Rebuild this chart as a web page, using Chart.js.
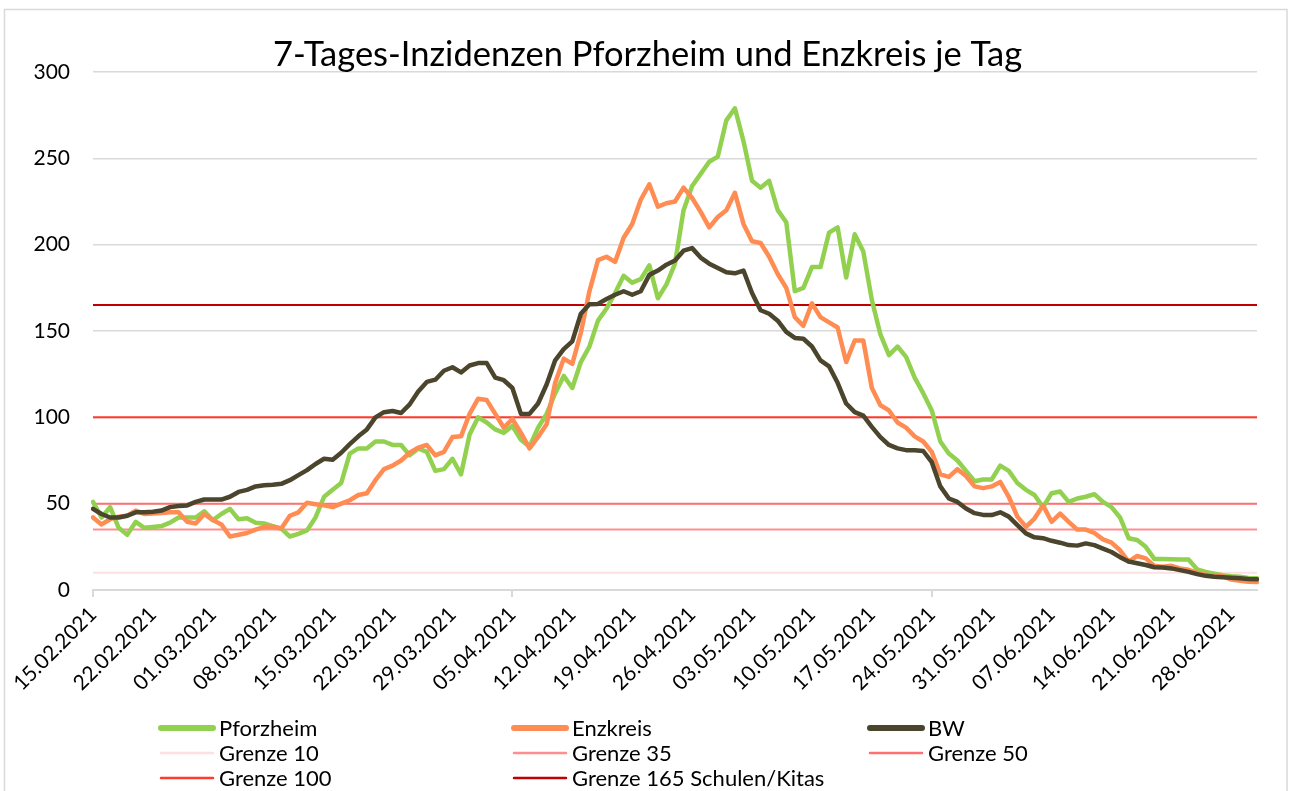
<!DOCTYPE html>
<html>
<head>
<meta charset="utf-8">
<script src="https://cdn.jsdelivr.net/npm/chart.js@4.4.1/dist/chart.umd.min.js"></script>
<style>
html,body{margin:0;padding:0;background:#fff;}
#wrap{width:1290px;height:791px;position:relative;overflow:hidden;}
</style>
</head>
<body>
<div id="wrap"><canvas id="c" width="1290" height="791"></canvas></div>
<script>
const START_DATE = '15.02.2021';
const TITLE = '7-Tages-Inzidenzen Pforzheim und Enzkreis je Tag';
const TICK_LABELS = ['15.02.2021','22.02.2021','01.03.2021','08.03.2021','15.03.2021','22.03.2021','29.03.2021','05.04.2021','12.04.2021','19.04.2021','26.04.2021','03.05.2021','10.05.2021','17.05.2021','24.05.2021','31.05.2021','07.06.2021','14.06.2021','21.06.2021','28.06.2021'];

const PFORZHEIM = [
 51, 42, 48, 36, 32, 39.5, 36, 36.5, 37, 39,
 42, 42, 42, 45.5, 40.5, 44, 47, 41, 41.5, 39,
 38.5, 37, 35.5, 31, 32.5, 34.5, 42, 54, 58, 62,
 79, 82, 82, 86, 86, 84, 84, 78, 82, 80,
 69, 70, 76, 67, 90, 100, 97, 93, 91, 95,
 87, 83, 94, 102, 114, 124, 117, 132, 141, 156,
 163, 172, 182, 178, 180, 188, 169, 177, 189, 220,
 234, 241, 248, 251, 272, 279, 260, 237, 233, 237,
 220, 213, 173, 175, 187, 187, 207, 210, 181, 206,
 196, 168, 148, 136, 141, 135, 123, 114, 104, 86,
 79, 75, 69, 63, 64, 64, 72, 69, 62, 58,
 55, 48, 56, 57, 51, 53, 54, 55.5, 51, 48,
 42, 30, 29, 25, 18, 18, 17.8, 17.6, 17.6, 12,
 10.5, 9.5, 8.5, 8, 7.7, 7, 6.8
];
const ENZKREIS = [
 42, 38, 41, 42.5, 43, 46, 44, 44.3, 44.6, 45,
 45, 39.5, 38.5, 44, 40.5, 38, 31, 32, 33, 35,
 36.6, 36.6, 35.6, 43, 45, 50.5, 49.7, 49, 48, 50,
 52, 55, 56, 63.6, 70, 72, 75, 79.5, 82.5, 84,
 78, 80, 88.6, 89, 102, 110.8, 110, 102, 94, 99,
 91, 82, 88.6, 96, 120, 134, 131, 149, 173, 191,
 193, 190, 204, 212, 226, 235, 222, 224, 225, 233,
 227, 219, 210, 216, 220, 230, 212, 202, 201, 193,
 183, 175, 158, 153, 166, 158, 155, 152, 132, 144.5,
 144.5, 117, 107, 104, 97, 94, 89, 86, 80, 67,
 65.5, 70, 66, 60, 59, 60, 62.6, 54, 42.5, 36.6,
 41.4, 49, 39.5, 44.3, 39.5, 35, 35, 33, 29.3, 27.4,
 23, 16.4, 19.7, 18.3, 14, 13.5, 14, 12.5, 11.7, 10,
 8.8, 8.2, 8, 6, 5.4, 4.8, 4.6
];
const BW = [
 47, 44, 42, 42, 43, 45, 45, 45.3, 46, 48,
 48.6, 49, 51, 52.4, 52.4, 52.4, 54, 56.8, 58, 60,
 60.7, 61, 61.5, 63.6, 66.5, 69.4, 73, 76, 75.5, 79.5,
 84.5, 89, 93, 100, 103, 103.7, 102.5, 107.5, 115, 120.5,
 121.8, 127, 129, 126, 130, 131.4, 131.4, 123, 121.5, 117,
 102, 102, 108, 119, 133, 139.5, 144, 160, 165.5, 165.7,
 168.5, 171, 173, 171, 173, 182.5, 185, 188.4, 190.8, 196.5,
 198, 192.5, 189, 186.5, 184, 183.4, 185, 172, 162, 160,
 156, 149.5, 146, 145.5, 141, 133, 129.5, 120, 108, 103,
 101, 94.5, 88.5, 84, 82, 81, 81, 80.5, 74, 60,
 53, 51, 47.2, 44.5, 43.5, 43.4, 45, 42.5, 37.6, 32.8,
 30.5, 30, 28.5, 27.4, 26, 25.7, 27, 26, 24, 22,
 19, 16.5, 15.5, 14.5, 13.2, 13, 12.5, 11.5, 10.5, 9.2,
 8.2, 7.7, 7.4, 7.1, 6.8, 6.4, 6.2
];
const GRENZEN = [10, 35, 50, 100, 165];
const GRENZEN_NAMES = ['Grenze 10', 'Grenze 35', 'Grenze 50', 'Grenze 100', 'Grenze 165 Schulen/Kitas'];
const Y_TICKS = [0, 50, 100, 150, 200, 250, 300];

// daily category labels
function buildDays(n) {
  const [d, m, y] = START_DATE.split('.').map(Number);
  const out = [];
  for (let i = 0; i < n; i++) {
    const dt = new Date(Date.UTC(y, m - 1, d + i));
    out.push(String(dt.getUTCDate()).padStart(2, '0') + '.' + String(dt.getUTCMonth() + 1).padStart(2, '0') + '.' + dt.getUTCFullYear());
  }
  return out;
}
const DAYS = buildDays(PFORZHEIM.length);

const SERIES_COLORS = ['#92d050', '#ff8c52', '#4a452c'];
const GRENZ_COLORS = ['#fde0e0', '#ff8f8f', '#ff7070', '#ff3b2a', '#c00000'];
const FONT = 'Lato, "Open Sans", sans-serif';

function seriesDs(label, data, color, order) {
  return { label, data, borderColor: color, backgroundColor: color, borderWidth: 4.5,
    pointRadius: 0, tension: 0, borderJoinStyle: 'round', borderCapStyle: 'round', order, fill: false };
}

const datasets = [
  seriesDs('Pforzheim', PFORZHEIM, SERIES_COLORS[0], 2),
  seriesDs('Enzkreis', ENZKREIS, SERIES_COLORS[1], 1),
  seriesDs('BW', BW, SERIES_COLORS[2], 0)
].concat(GRENZEN.map((g, i) => ({
  label: GRENZEN_NAMES[i], data: DAYS.map(() => g), borderColor: GRENZ_COLORS[i],
  backgroundColor: GRENZ_COLORS[i], borderWidth: 2, pointRadius: 0, tension: 0, order: 10 - i, fill: false
})));

const framePlugin = {
  id: 'frame',
  afterDraw(chart) {
    const ctx = chart.ctx;
    ctx.save();
    ctx.strokeStyle = '#d9d9d9';
    ctx.lineWidth = 1.5;
    ctx.strokeRect(4.5, 9.5, 1282.5, 800);
    ctx.restore();
  }
};

const legendPlugin = {
  id: 'xlLegend',
  afterDraw(chart) {
    const ctx = chart.ctx;
    const cols = [161, 514, 870];
    const rows = [728, 753, 778];
    chart.data.datasets.forEach((ds, i) => {
      const x = cols[i % 3], y = rows[Math.floor(i / 3)];
      ctx.save();
      ctx.strokeStyle = ds.borderColor;
      ctx.lineWidth = ds.borderWidth > 3 ? 6 : 2.5;
      ctx.lineCap = 'round';
      ctx.beginPath();
      ctx.moveTo(x, y);
      ctx.lineTo(x + 52, y);
      ctx.stroke();
      ctx.fillStyle = '#000';
      ctx.font = '22px ' + FONT;
      ctx.textBaseline = 'middle';
      ctx.fillText(ds.label, x + 58, y + 1);
      ctx.restore();
    });
  }
};

function draw() {
  Chart.defaults.font.family = FONT;
  new Chart(document.getElementById('c'), {
    type: 'line',
    data: { labels: DAYS, datasets },
    plugins: [framePlugin, legendPlugin],
    options: {
      responsive: false, animation: false, devicePixelRatio: 1,
      layout: { padding: { left: 5, right: 0, top: 0, bottom: 91 } },
      plugins: {
        legend: { display: false },
        tooltip: { enabled: false },
        title: { display: true, text: TITLE, color: '#000',
          font: { size: 34.5, weight: 'normal', lineHeight: 1 }, padding: { top: 37.5, bottom: 0 } }
      },
      scales: {
        x: {
          type: 'category', offset: false,
          grid: { drawOnChartArea: false, drawTicks: true, tickLength: 7, lineWidth: 2,
            color: c => (TICK_LABELS.includes(DAYS[c.index]) ? '#d9d9d9' : 'rgba(0,0,0,0)'),
            tickColor: c => (TICK_LABELS.includes(DAYS[c.index]) ? '#d9d9d9' : 'rgba(0,0,0,0)') },
          border: { display: true, color: '#d9d9d9', width: 2 },
          ticks: { autoSkip: false, maxRotation: 45, minRotation: 45, color: '#000', font: { size: 21 }, padding: 5,
            callback: (v, i) => (TICK_LABELS.includes(DAYS[i]) ? DAYS[i] : null) },
          afterFit: s => { s.height = 110; }
        },
        y: {
          min: 0, max: 300,
          afterBuildTicks: s => { s.ticks = Y_TICKS.map(v => ({ value: v })); },
          ticks: { color: '#000', font: { size: 21 }, padding: 23 },
          grid: { color: '#d9d9d9', lineWidth: 1.5, drawTicks: false },
          border: { display: false },
          afterFit: s => { s.width = 88; }
        },
        yRight: {
          position: 'right', display: true, min: 0, max: 300,
          ticks: { display: false }, grid: { display: false, drawTicks: false }, border: { display: false },
          afterFit: s => { s.width = 33; }
        }
      }
    }
  });
}
if (document.fonts && document.fonts.load) {
  Promise.all([document.fonts.load('22px Lato'), document.fonts.load('34px Lato')]).then(draw, draw);
} else { draw(); }
</script>
</body>
</html>
